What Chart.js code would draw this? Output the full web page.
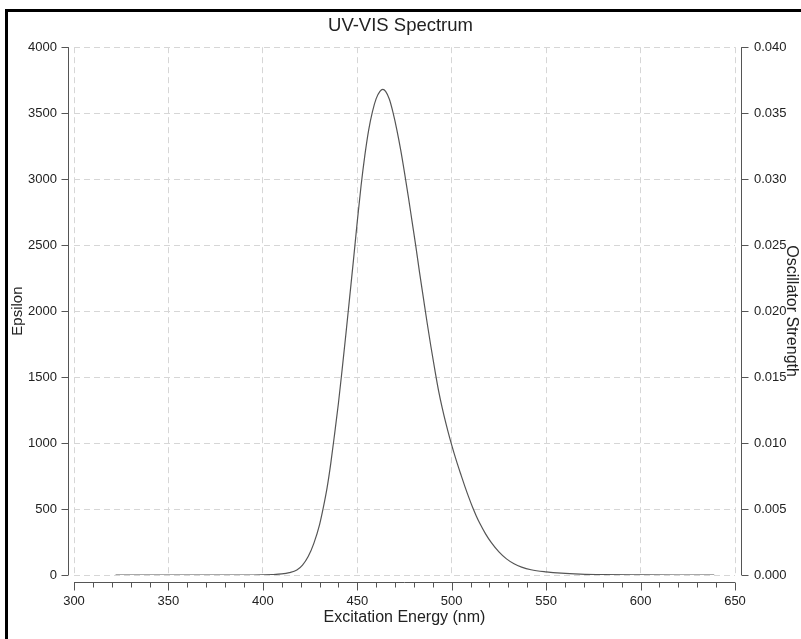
<!DOCTYPE html>
<html>
<head>
<meta charset="utf-8">
<script src="https://cdn.jsdelivr.net/npm/chart.js@4"></script>
<style>
  body { margin: 0; background: #fff; }
  #wrap { width: 801px; height: 639px; }
</style>
</head>
<body>
<div id="wrap"><canvas id="uvvisChart" width="801" height="639"></canvas></div>
<script>
// Spectrum (wavelength in nm, epsilon)
const wavelengths = [
  322, 340, 360, 380, 395, 400, 405, 410, 414, 418, 421, 424, 427, 430, 432,
  434, 436, 438, 440, 442, 444, 446, 448, 450, 452, 454, 456, 458, 460, 462,
  463.5, 465, 467, 469, 471, 473, 475, 477, 479, 481, 483, 485, 487, 489, 491,
  493, 495, 497, 499, 501, 503, 505, 507, 509, 511, 513, 515, 518, 521, 525,
  529, 533, 537, 542, 550, 558, 568, 580, 600, 620, 639
];
const epsilon = [
  0, 0, 0, 0, 0, 1, 3, 8, 18, 38, 75, 140, 240, 380, 510,
  660, 850, 1070, 1300, 1560, 1830, 2110, 2390, 2680, 2950, 3180, 3370, 3510, 3610, 3665,
  3680, 3665, 3605, 3500, 3370, 3220, 3050, 2870, 2680, 2490, 2290, 2100, 1910, 1730, 1560,
  1400, 1265, 1145, 1035, 935, 842, 755, 670, 590, 515, 448, 388, 310, 245, 175,
  122, 85, 60, 40, 24, 14, 7, 3, 1, 0, 0
];

const xRange = [300, 650];
const epsilonRange = [0, 4000];
const strengthRange = [0, 0.04];

const FONT = "'Liberation Sans', Arial, sans-serif";
const AXIS_COLOR = "#555";

// Black frame along the top and left edge
const framePlugin = {
  id: "frame",
  afterDraw(chart) {
    const ctx = chart.ctx;
    ctx.save();
    ctx.fillStyle = "#000";
    ctx.fillRect(5, 9, 796, 3);
    ctx.fillRect(5, 9, 3, 630);
    ctx.restore();
  },
};

// Axis lines drawn a few pixels away from the plot area, R style
const offsetAxesPlugin = {
  id: "offsetAxes",
  afterDraw(chart) {
    const ctx = chart.ctx;
    const area = chart.chartArea;
    const x = chart.scales.x;
    const y = chart.scales.y;
    const y2 = chart.scales.y2;
    const px = (v) => Math.round(v) + 0.5;

    ctx.save();
    ctx.strokeStyle = AXIS_COLOR;
    ctx.lineWidth = 1;
    ctx.beginPath();

    // left axis
    const lx = px(area.left - 6);
    ctx.moveTo(lx, y.getPixelForValue(y.max));
    ctx.lineTo(lx, y.getPixelForValue(y.min));
    y.ticks.forEach((t) => {
      const py = px(y.getPixelForValue(t.value));
      ctx.moveTo(lx - 7, py);
      ctx.lineTo(lx, py);
    });

    // right axis
    const rx = px(area.right + 6);
    ctx.moveTo(rx, y2.getPixelForValue(y2.max));
    ctx.lineTo(rx, y2.getPixelForValue(y2.min));
    y2.ticks.forEach((t) => {
      const py = px(y2.getPixelForValue(t.value));
      ctx.moveTo(rx, py);
      ctx.lineTo(rx + 7, py);
    });

    // bottom axis with minor ticks every 10 nm
    const by = px(area.bottom + 7);
    ctx.moveTo(x.getPixelForValue(x.min), by);
    ctx.lineTo(x.getPixelForValue(x.max), by);
    for (let v = x.min; v <= x.max; v += 10) {
      const major = v % 50 === 0;
      const pxv = px(x.getPixelForValue(v));
      ctx.moveTo(pxv, by);
      ctx.lineTo(pxv, by + (major ? 8 : 5));
    }

    ctx.stroke();
    ctx.restore();
  },
};

const ctx = document.getElementById("uvvisChart").getContext("2d");

new Chart(ctx, {
  type: "line",
  data: {
    datasets: [
      {
        label: "Epsilon",
        data: wavelengths.map((w, i) => ({ x: w, y: epsilon[i] })),
        borderColor: "#555",
        borderWidth: 1.2,
        pointRadius: 0,
        fill: false,
        cubicInterpolationMode: "monotone",
        yAxisID: "y",
      },
    ],
  },
  options: {
    responsive: false,
    animation: false,
    layout: { padding: 0 },
    plugins: {
      legend: { display: false },
      tooltip: { enabled: false },
      title: {
        display: true,
        text: "UV-VIS Spectrum",
        color: "#222",
        font: { family: FONT, size: 18.5, weight: "normal" },
        padding: { top: 15, bottom: 10 },
      },
    },
    scales: {
      x: {
        type: "linear",
        min: xRange[0],
        max: xRange[1],
        afterFit: (scale) => {
          scale.height = 64;
        },
        ticks: {
          stepSize: 50,
          padding: 19,
          color: "#222",
          font: { family: FONT, size: 13 },
          callback: (value) => String(value),
        },
        grid: {
          color: "#d6d6d6",
          drawTicks: false,
        },
        border: { display: false, dash: [6, 4] },
        title: {
          display: true,
          text: "Excitation Energy (nm)",
          color: "#222",
          font: { family: FONT, size: 16 },
          padding: { top: 0, bottom: 12 },
        },
      },
      y: {
        position: "left",
        min: epsilonRange[0],
        max: epsilonRange[1],
        afterFit: (scale) => {
          scale.width = 74;
        },
        ticks: {
          stepSize: 500,
          padding: 17,
          color: "#222",
          font: { family: FONT, size: 13 },
          callback: (value) => String(value),
        },
        grid: {
          color: "#d6d6d6",
          drawTicks: false,
        },
        border: { display: false, dash: [6, 4] },
        title: {
          display: true,
          text: "Epsilon",
          color: "#222",
          font: { family: FONT, size: 15 },
          padding: { top: 9, bottom: 0 },
        },
      },
      y2: {
        position: "right",
        min: strengthRange[0],
        max: strengthRange[1],
        afterFit: (scale) => {
          scale.width = 66;
        },
        ticks: {
          stepSize: 0.005,
          padding: 19,
          color: "#222",
          font: { family: FONT, size: 13 },
          callback: (value) => value.toFixed(3),
        },
        grid: { display: false, drawTicks: false },
        border: { display: false },
        title: {
          display: true,
          text: "Oscillator Strength",
          color: "#222",
          font: { family: FONT, size: 16 },
          padding: { top: 0, bottom: 0 },
        },
      },
    },
  },
  plugins: [framePlugin, offsetAxesPlugin],
});
</script>
</body>
</html>
